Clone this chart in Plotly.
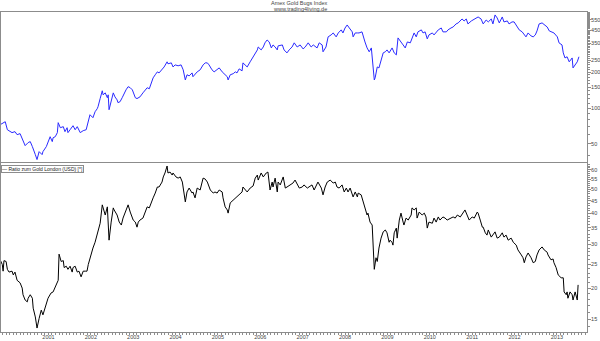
import plotly.graph_objects as go

# ---------------- data (dates as decimal years) ----------------
hui_t = [1999.86,1999.98,2000.03,2000.14,2000.21,2000.26,2000.33,2000.40,2000.45,2000.52,2000.57,2000.62,2000.64,2000.69,2000.73,2000.78,2000.85,2000.87,2000.95,2000.99,
2001.04,2001.09,2001.11,2001.16,2001.21,2001.23,2001.28,2001.35,2001.39,2001.44,2001.46,2001.51,2001.58,2001.63,2001.68,2001.75,2001.82,2001.89,2001.94,2001.98,
2002.05,2002.10,2002.15,2002.17,2002.22,2002.27,2002.29,2002.34,2002.39,2002.41,2002.43,2002.48,2002.53,2002.57,2002.62,2002.64,2002.69,2002.74,2002.79,2002.83,2002.88,2002.93,2002.98,
2003.00,2003.05,2003.09,2003.16,2003.23,2003.33,2003.38,2003.42,2003.47,2003.52,2003.57,2003.61,2003.68,2003.73,2003.80,2003.82,2003.90,2003.94,2003.99,
2004.06,2004.13,2004.18,2004.23,2004.27,2004.32,2004.39,2004.41,2004.51,2004.58,2004.65,2004.70,2004.75,2004.79,2004.86,2004.91,2004.98,
2005.03,2005.10,2005.17,2005.22,2005.24,2005.29,2005.36,2005.41,2005.45,2005.50,2005.57,2005.59,2005.64,2005.69,2005.76,2005.83,2005.93,2005.95,
2006.02,2006.07,2006.11,2006.16,2006.21,2006.26,2006.30,2006.35,2006.40,2006.42,2006.52,2006.56,2006.63,2006.68,2006.75,2006.80,2006.87,2006.94,
2007.01,2007.06,2007.13,2007.20,2007.25,2007.34,2007.39,2007.46,2007.48,2007.55,2007.60,2007.67,2007.72,2007.79,2007.84,2007.91,2007.95,
2008.00,2008.05,2008.10,2008.17,2008.19,2008.24,2008.29,2008.33,2008.40,2008.43,2008.47,2008.52,2008.57,2008.62,2008.66,2008.69,2008.71,2008.76,2008.80,2008.85,2008.90,2008.95,2008.99,
2009.04,2009.11,2009.16,2009.21,2009.25,2009.32,2009.37,2009.42,2009.47,2009.54,2009.58,2009.63,2009.68,2009.72,2009.80,2009.84,2009.89,2009.94,2009.98,
2010.06,2010.10,2010.17,2010.20,2010.27,2010.31,2010.39,2010.43,2010.50,2010.55,2010.62,2010.67,2010.76,2010.81,2010.86,2010.90,2010.98,
2011.02,2011.09,2011.14,2011.21,2011.26,2011.33,2011.38,2011.45,2011.49,2011.54,2011.59,2011.64,2011.71,2011.75,2011.83,2011.87,2011.94,2011.99,
2012.06,2012.11,2012.18,2012.23,2012.27,2012.32,2012.39,2012.44,2012.49,2012.53,2012.58,2012.65,2012.70,2012.77,2012.82,2012.89,2012.93,
2013.01,2013.05,2013.12,2013.15,2013.19,2013.24,2013.29,2013.36,2013.38,2013.43,2013.48,2013.52]

hui_v = [72.5,76.8,65.8,62.2,63.4,59.8,61.0,52.3,48.4,51.3,52.3,47.5,44.8,40.7,37.0,43.1,40.7,43.1,47.5,51.3,
57.5,52.3,56.4,57.5,62.2,75.4,68.4,69.8,63.4,68.4,62.2,65.8,71.1,65.8,69.8,62.2,64.6,65.8,75.4,87.9,
83.0,93.1,98.6,102.5,120,139.5,129,134,122,129,96.8,117,134,124,117,111,113,122,134,142,151,148,142,
134,122,120,124,134,148,145,157,179,190,201,197,209,221,244,235,239,221,230,
226,230,209,172,190,186,197,183,201,209,230,239,239,230,209,201,209,
217,201,190,183,172,190,194,201,197,213,205,239,230,221,244,269,307,325,
307,325,352,372,358,319,338,325,307,332,338,307,290,307,325,352,325,338,
313,325,352,325,338,319,352,338,296,325,395,410,426,395,426,452,426,
469,497,469,435,395,426,426,426,435,395,358,319,296,319,239,172,179,221,217,253,290,296,307,
290,319,290,279,387,352,338,319,358,352,387,426,395,435,452,426,435,380,410,
426,410,435,452,469,435,435,452,469,478,507,517,558,537,558,507,537,
547,569,580,558,507,547,527,558,507,603,569,517,580,527,537,507,527,527,
478,452,435,410,395,426,402,395,410,443,507,517,497,478,443,435,426,
395,352,338,290,263,269,244,263,217,230,244,269]

ratio_t = [1999.86,1999.91,1999.93,1999.95,2000.00,2000.03,2000.07,2000.14,2000.17,2000.21,2000.26,2000.28,2000.33,2000.38,2000.40,2000.45,2000.50,2000.52,2000.57,2000.62,2000.64,2000.69,2000.73,2000.78,2000.83,2000.87,2000.92,2000.97,2000.99,
2001.06,2001.11,2001.16,2001.21,2001.23,2001.25,2001.30,2001.35,2001.37,2001.42,2001.46,2001.51,2001.56,2001.58,2001.63,2001.68,2001.72,2001.77,2001.82,2001.87,2001.91,2001.94,2001.98,
2002.03,2002.05,2002.10,2002.15,2002.17,2002.22,2002.27,2002.29,2002.34,2002.39,2002.41,2002.43,2002.48,2002.53,2002.55,2002.60,2002.62,2002.67,2002.72,2002.76,2002.81,2002.86,2002.88,2002.93,2002.98,
2003.00,2003.05,2003.09,2003.12,2003.16,2003.23,2003.28,2003.33,2003.38,2003.42,2003.47,2003.52,2003.57,2003.61,2003.68,2003.71,2003.75,2003.80,2003.82,2003.87,2003.92,2003.94,
2004.01,2004.06,2004.11,2004.16,2004.18,2004.23,2004.27,2004.32,2004.39,2004.41,2004.46,2004.51,2004.58,2004.65,2004.70,2004.75,2004.82,2004.89,2004.93,2004.98,
2005.03,2005.10,2005.12,2005.17,2005.22,2005.24,2005.29,2005.36,2005.41,2005.45,2005.50,2005.57,2005.59,2005.64,2005.69,2005.76,2005.83,2005.88,2005.93,2005.95,
2006.02,2006.07,2006.14,2006.18,2006.23,2006.28,2006.30,2006.35,2006.40,2006.42,2006.47,2006.54,2006.59,2006.63,2006.70,2006.77,2006.82,2006.87,2006.92,2006.99,
2007.03,2007.11,2007.15,2007.22,2007.27,2007.32,2007.36,2007.44,2007.48,2007.53,2007.58,2007.65,2007.72,2007.77,2007.81,2007.86,2007.93,2007.98,
2008.03,2008.07,2008.12,2008.19,2008.24,2008.29,2008.31,2008.38,2008.43,2008.47,2008.52,2008.54,2008.59,2008.64,2008.66,2008.69,2008.73,2008.76,2008.80,2008.85,2008.90,2008.95,2008.99,
2009.04,2009.06,2009.11,2009.13,2009.16,2009.21,2009.23,2009.28,2009.32,2009.37,2009.39,2009.44,2009.49,2009.56,2009.58,2009.63,2009.68,2009.70,2009.75,2009.82,2009.87,2009.91,2009.94,2009.98,
2010.06,2010.10,2010.15,2010.20,2010.24,2010.31,2010.36,2010.41,2010.48,2010.55,2010.60,2010.65,2010.72,2010.79,2010.83,2010.88,2010.93,
2011.00,2011.05,2011.12,2011.14,2011.19,2011.24,2011.26,2011.31,2011.35,2011.38,2011.45,2011.49,2011.54,2011.59,2011.64,2011.71,2011.75,2011.80,2011.85,2011.92,2011.97,
2012.04,2012.08,2012.16,2012.20,2012.23,2012.27,2012.32,2012.39,2012.44,2012.49,2012.53,2012.58,2012.65,2012.70,2012.77,2012.79,2012.86,2012.91,2012.93,2012.98,
2013.03,2013.10,2013.15,2013.17,2013.22,2013.24,2013.26,2013.31,2013.36,2013.38,2013.43,2013.48,2013.50]

ratio_v = [26.0,24.9,23.4,25.8,25.6,23.8,23.2,23.4,22.6,23.2,21.5,21.3,21.0,20.0,18.8,17.9,17.6,18.2,18.8,18.2,16.6,15.3,13.8,15.1,16.3,15.6,16.6,17.7,18.2,
19.1,19.3,20.2,21.1,21.5,27.4,25.6,25.8,24.2,24.5,23.8,24.5,23.2,24.2,24.5,23.2,23.4,22.2,23.4,23.4,23.4,24.9,26.5,
28.5,29.0,30.6,32.7,34.3,36.5,43.3,42.1,39.4,42.5,36.9,31.2,36.9,42.1,41.3,40.1,39.4,36.9,35.9,38.3,40.1,42.5,43.3,40.5,38.7,
37.6,36.9,35.2,36.9,37.6,38.3,40.1,42.5,42.1,44.1,46.2,48.3,51.1,51.1,53.5,56.1,58.2,62.1,58.2,58.7,57.1,58.2,
56.1,55.5,56.1,53.5,51.1,44.5,48.8,50.6,48.3,48.8,46.2,50.6,49.7,55.5,55.0,53.5,49.7,48.3,48.8,48.3,
49.7,48.8,46.2,42.5,41.3,40.1,44.1,45.3,46.2,46.6,47.9,48.8,51.1,49.7,48.8,50.6,51.6,55.5,57.1,54.5,
58.2,56.1,58.2,58.7,49.7,53.5,51.1,55.5,48.8,53.5,52.1,56.1,50.6,51.1,52.1,53.0,54.5,52.1,50.6,51.1,
52.1,50.6,51.1,52.1,49.7,52.1,53.5,50.6,47.5,51.1,53.5,54.5,53.0,53.5,51.1,50.6,52.1,48.8,
50.6,48.8,50.6,46.6,48.8,46.6,48.3,47.5,44.5,42.1,39.4,40.1,36.9,35.9,27.9,23.8,26.5,25.6,29.0,31.8,33.7,34.3,33.4,
30.6,31.2,30.6,29.8,33.4,34.9,31.8,37.6,40.1,36.9,35.9,38.3,37.6,39.4,42.1,41.3,42.1,38.3,40.5,39.4,40.1,38.7,34.9,36.9,
36.5,38.3,36.9,38.7,37.6,38.7,38.3,37.6,38.3,38.7,38.3,39.4,38.7,40.5,41.3,39.4,37.6,
38.7,38.3,40.5,40.1,37.6,35.2,35.2,33.4,32.7,34.3,32.1,32.7,33.7,31.8,32.1,33.4,32.1,32.7,31.2,31.8,30.6,
29.8,28.5,27.2,26.5,25.3,26.7,27.7,26.5,25.3,25.6,27.2,28.5,29.3,28.5,27.9,27.2,26.0,26.2,25.3,24.2,
22.6,22.0,22.0,19.3,18.8,19.3,18.2,19.3,18.8,17.9,19.3,17.9,20.6]

year_ticks = list(range(2001, 2014))
year_labels = [str(y) for y in year_ticks]
top_ticks = [50, 100, 150, 200, 250, 350, 450, 550, 650]
bottom_ticks = [15, 20, 25, 30, 35, 40, 45, 50, 55, 60]

title_line1 = "Amex Gold Bugs Index"
title_line2 = "www.trading4living.de"
legend_text = "Ratio zum Gold London (USD) [*]"

# ---------------- figure ----------------
FONT = "Liberation Sans, Arial, sans-serif"
AX = "#8c8c8c"
TXT = "#444444"

fig = go.Figure()
fig.add_trace(go.Scatter(x=hui_t, y=hui_v, mode="lines",
                         line=dict(color="#2a2aff", width=1), xaxis="x", yaxis="y",
                         showlegend=False, hoverinfo="skip"))
fig.add_trace(go.Scatter(x=ratio_t, y=ratio_v, mode="lines",
                         line=dict(color="#000000", width=1), xaxis="x2", yaxis="y2",
                         showlegend=False, hoverinfo="skip"))

xr = [1999.88, 2013.71]
common_x = dict(range=xr, showgrid=False, zeroline=False, showline=True, linecolor=AX,
                linewidth=1, mirror=True, automargin=False, fixedrange=True)
common_y = dict(showgrid=False, zeroline=False, showline=True, linecolor=AX, linewidth=1,
                mirror=True, automargin=False, fixedrange=True, side="right",
                ticks="outside", ticklen=3, tickcolor=AX, ticklabelstandoff=-1,
                tickfont=dict(size=5.5, color=TXT))
fig.update_layout(
    width=600, height=341,
    margin=dict(l=1, r=13, t=12, b=9),
    paper_bgcolor="white", plot_bgcolor="white",
    font=dict(family=FONT, size=6, color=TXT),
    xaxis=dict(domain=[0, 1], anchor="y", showticklabels=False, ticks="", **common_x),
    xaxis2=dict(domain=[0, 1], anchor="y2", tickvals=year_ticks, ticktext=year_labels,
                ticks="outside", ticklen=2, tickcolor=AX, ticklabelstandoff=-3,
                tickfont=dict(size=5.5, color=TXT),
                minor=dict(ticks="outside", ticklen=2, tickcolor=AX, dtick=1/12, tick0=2001),
                **common_x),
    yaxis=dict(domain=[0.5325, 1], type="log", range=[1.551, 2.805],
               tickvals=top_ticks, ticktext=[str(v) for v in top_ticks],
               minor=dict(ticks="outside", ticklen=2, tickcolor=AX,
                          tickvals=list(range(40, 700, 10))),
               **common_y),
    yaxis2=dict(domain=[0, 0.528], type="log", range=[1.124, 1.805],
                tickvals=bottom_ticks, ticktext=[str(v) for v in bottom_ticks],
                minor=dict(ticks="outside", ticklen=2, tickcolor=AX,
                           tickvals=list(range(14, 64, 1))),
                **common_y),
)

fig.add_annotation(text=title_line1, xref="paper", yref="paper", x=0.51, y=(332-3)/320,
                   xanchor="center", yanchor="middle", showarrow=False,
                   font=dict(size=5.5, color=TXT, family=FONT))
fig.add_annotation(text=title_line2, xref="paper", yref="paper", x=0.51, y=(332-9)/320,
                   xanchor="center", yanchor="middle", showarrow=False,
                   font=dict(size=5.5, color=TXT, family=FONT))
fig.add_annotation(text="\u2014 " + legend_text, xref="paper", yref="paper", x=0.0, y=0.522,
                   xanchor="left", yanchor="top", showarrow=False, align="left",
                   bordercolor=AX, borderwidth=1, borderpad=0, bgcolor="white",
                   font=dict(size=5, color="#222222", family=FONT))

fig.write_html("out.html")
